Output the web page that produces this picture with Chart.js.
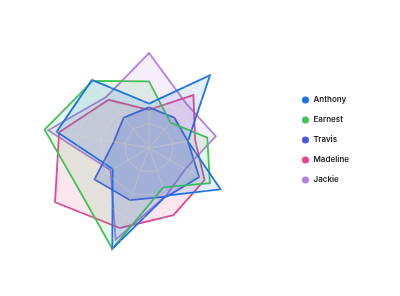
<!DOCTYPE html>
<html>
<head>
<meta charset="utf-8">
<script src="https://cdn.jsdelivr.net/npm/chart.js@4"></script>
<style>
    html, body { margin: 0; padding: 0; background: #fff; }
    #wrap { width: 400px; height: 296px; position: relative; }
</style>
</head>
<body>
<div id="wrap"><canvas id="myChart"></canvas></div>
<script>
'use strict'

// 軸ラベル (表示なし)
var categories = ['Speed', 'Power', 'Skill', 'Focus', 'Stamina', 'Luck', 'Defense', 'Agility', 'Charm'];

// 系列データ
var anthony = [36, 77, 32, 67, 41, 87, 34, 76, 72];
var earnest = [54, 27, 48, 57, 34, 87, 66, 86, 71];
var travis = [33, 32, 32, 47, 42, 45, 51, 29, 32];
var madeline = [31, 56, 38, 52, 58, 69, 88, 74, 51];
var jackie = [77, 47, 55, 34, 41, 79, 36, 83, 54];

var seriesNames = ['Anthony', 'Earnest', 'Travis', 'Madeline', 'Jackie'];

// 目盛り
var scaleMax = 120;
var scaleStep = 20;

//基本色
var defColor = ['#1a73e8', '#3fc651', '#4a57e3', '#e8448f', '#b77de6'];
var fillAlpha = [0.13, 0.13, 0.25, 0.14, 0.13];

function hexToRgba(hex, a) {
    var r = parseInt(hex.substr(1, 2), 16);
    var g = parseInt(hex.substr(3, 2), 16);
    var b = parseInt(hex.substr(5, 2), 16);
    return 'rgba(' + r + ',' + g + ',' + b + ',' + a + ')';
}

// グリッドは塗りの上だけに描く
var gridOnFill = {
    id: 'gridOnFill',
    afterDatasetsDraw: function (chart) {
        chart.ctx.save();
        chart.ctx.globalCompositeOperation = 'source-atop';
    },
    afterDraw: function (chart) {
        chart.ctx.restore();
    }
};

// 凡例の位置を少し調整
var legendNudge = {
    id: 'legendNudge',
    afterLayout: function (chart) {
        var lg = chart.legend;
        lg.left -= 9;
        lg.right -= 9;
        lg.top -= 8;
        lg.bottom -= 8;
    }
};

window.onload = function () {
    var values = [anthony, earnest, travis, madeline, jackie];
    var dataSets = [];
    for (var i = 0; i < values.length; i++) {
        dataSets.push({
            label: seriesNames[i],
            data: values[i],
            borderColor: defColor[i],
            backgroundColor: hexToRgba(defColor[i], fillAlpha[i]),
            borderWidth: 1.8,
            pointRadius: 0,
            pointHoverRadius: 0,
            fill: true
        });
    }

    var ctx = document.getElementById('myChart');
    new Chart(ctx, {
        type: 'radar',
        data: {
            labels: categories,
            datasets: dataSets
        },
        options: {
            responsive: true,
            maintainAspectRatio: false,
            animation: false,
            layout: { padding: { right: 32 } },
            plugins: {
                tooltip: { enabled: false },
                legend: {
                    position: 'right',
                    labels: {
                        usePointStyle: true,
                        pointStyle: 'circle',
                        boxWidth: 8,
                        boxHeight: 5,
                        padding: 12,
                        color: '#222',
                        font: { family: 'Inter', size: 8, weight: '600' },
                        generateLabels: function (chart) {
                            return chart.data.datasets.map(function (ds, idx) {
                                return {
                                    text: ds.label,
                                    fillStyle: ds.borderColor,
                                    strokeStyle: ds.borderColor,
                                    lineWidth: 0,
                                    pointStyle: 'circle',
                                    fontColor: '#222',
                                    hidden: false,
                                    datasetIndex: idx
                                };
                            });
                        }
                    }
                }
            },
            scales: {
                r: {
                    min: 0,
                    max: scaleMax,
                    ticks: { display: false, stepSize: scaleStep },
                    pointLabels: { display: false },
                    grid: { z: 1, color: 'rgb(135,138,155)', lineWidth: 1 },
                    angleLines: { color: 'rgb(135,138,155)', lineWidth: 1 }
                }
            }
        },
        plugins: [gridOnFill, legendNudge]
    });
}
</script>
</body>
</html>
